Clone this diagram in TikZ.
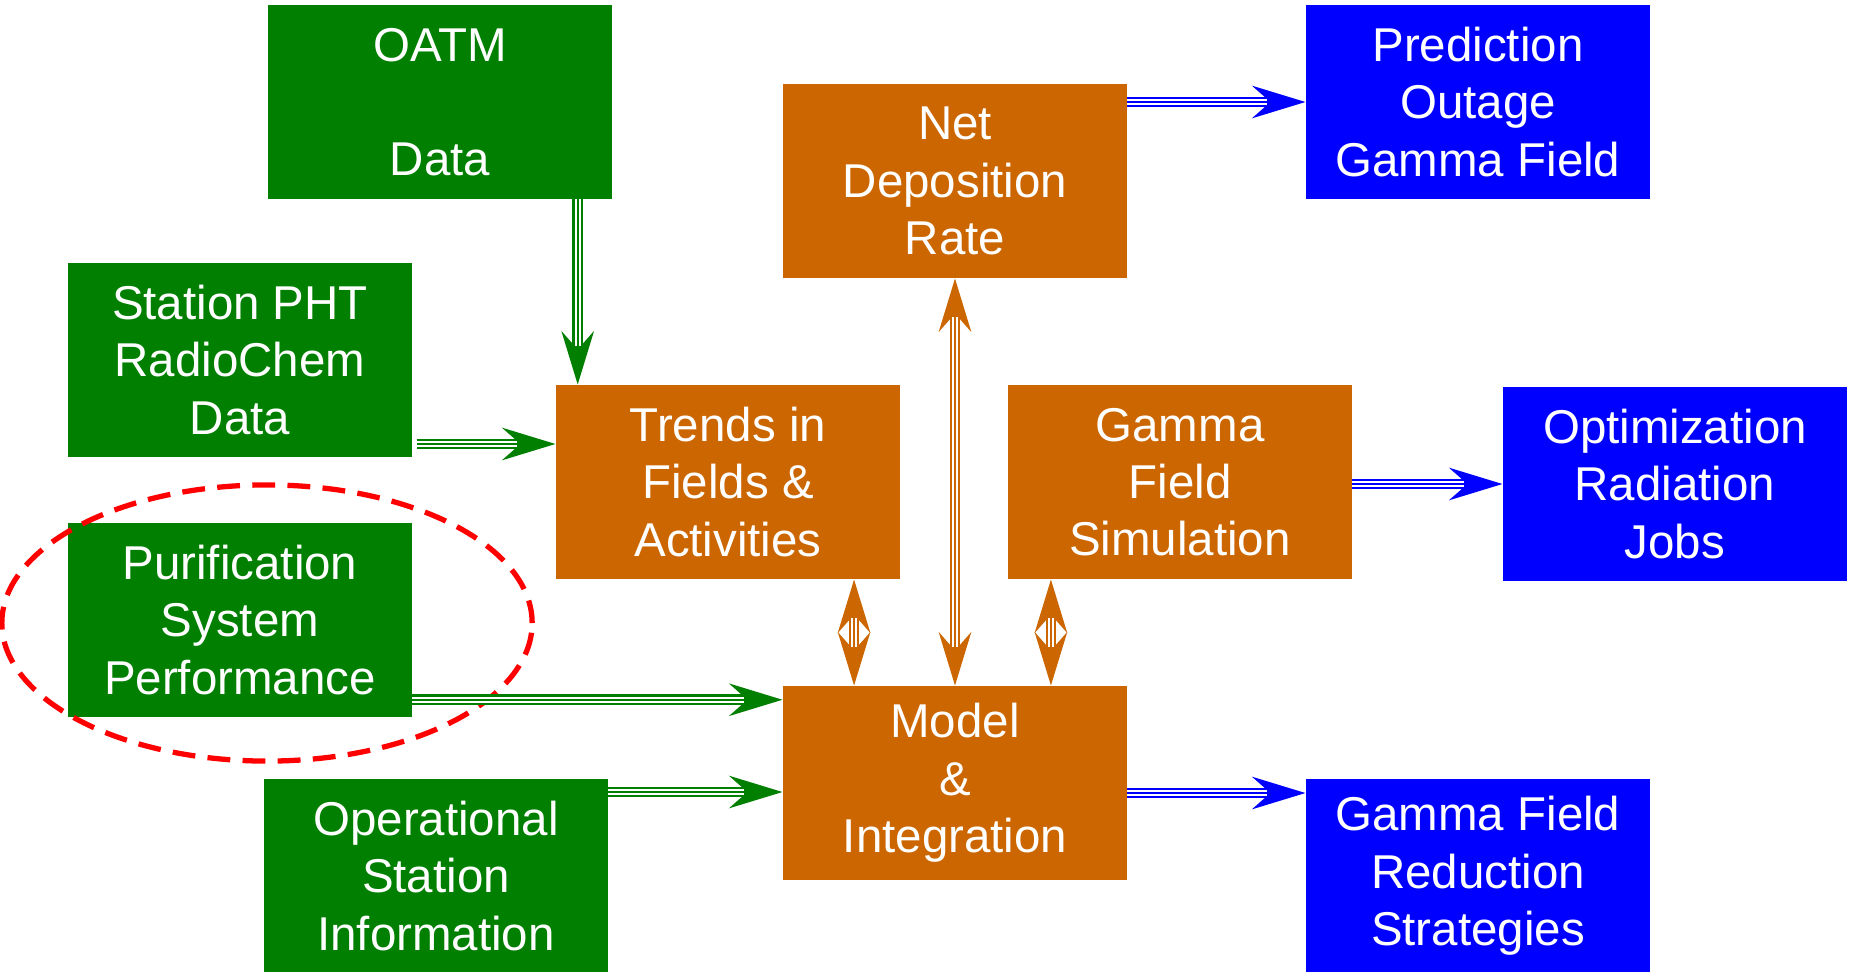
\documentclass[tikz,border=0pt]{standalone}
\usepackage{fontspec}
\setmainfont{Liberation Sans}
\usepackage{tikz}
\usetikzlibrary{arrows.meta,calc,positioning,shapes}
\definecolor{srcgreen}{HTML}{007F00}
\definecolor{procorange}{HTML}{CC6600}
\definecolor{outblue}{HTML}{0000FF}
\tikzset{
    block/.style={
    rectangle,minimum width=3.43cm,minimum height=1.93cm,inner sep=0pt,
    align=center,text=white,font=\fontsize{13.5pt}{16.3pt}\selectfont
    },
    source/.style={
    block,fill=srcgreen
    },
    process/.style={
    block,fill=procorange
    },
    result/.style={
    block,fill=outblue
    },
    flow/.style={
    draw=#1,line width=3pt,-{Stealth[length=15pt,width=9pt,inset=5pt]},
    postaction={draw=white,line width=1.8pt,-,shorten >=11pt},
    postaction={draw=#1,line width=0.6pt,-,shorten >=11pt}
    },
    biflow/.style={
    draw=#1,line width=3pt,{Stealth[length=15pt,width=9pt,inset=5pt]}-{Stealth[length=15pt,width=9pt,inset=5pt]},
    postaction={draw=white,line width=1.8pt,-,shorten >=11pt,shorten <=11pt},
    postaction={draw=#1,line width=0.6pt,-,shorten >=11pt,shorten <=11pt}
    },
}

\begin{document}
\begin{tikzpicture}[x=0.01cm, y=-0.01cm]
   \useasboundingbox (0,0) rectangle (1853,972);

   %data sources
   \node[source] (oatm) at (440,102) {OATM\\ \\Data};
   \node[source] (pht) at (240,360) {Station PHT\\RadioChem\\Data};
   \node[source] (purif) at (240,620) {Purification\\System\\Performance};
   \node[source] (oper) at (436,876) {Operational\\Station\\Information};

   %processing
   \node[process] (trends) at (728,482) {Trends in\\Fields \&\\Activities};
   \node[process] (netdep) at (955,181) {Net\\Deposition\\Rate};
   \node[process] (gsim) at (1180,482) {Gamma\\Field\\Simulation};
   \node[process] (model) at (955,783) {Model\\\&\\Integration};

   %results
   \node[result] (pred) at (1478,102) {Prediction\\Outage\\Gamma Field};
   \node[result] (optim) at (1675,484) {Optimization\\Radiation\\Jobs};
   \node[result] (reduc) at (1478,876) {Gamma Field\\Reduction\\Strategies};

   %highlight
   \draw[red,line width=1.5pt,dash pattern=on 6.5pt off 3.5pt] (267,623) ellipse [x radius=2.65cm, y radius=1.38cm];

   %arrow ends
   \coordinate (t1) at ([xshift=0.22cm]trends.north west);
   \coordinate (t2) at ([yshift=0.38cm]trends.west);
   \coordinate (m1) at ([yshift=-0.14cm]model.north west);
   \coordinate (m2) at ([yshift=-0.09cm]model.west);
   \coordinate (m3) at ([yshift=-0.10cm]model.east);
   \coordinate (r1) at (reduc.west |- m3);

  \path
    (oatm.south -| t1) edge[flow=srcgreen] (t1)
    ([xshift=0.05cm]pht.east |- t2) edge[flow=srcgreen] (t2)
    (purif.east |- m1) edge[flow=srcgreen] (m1)
    (oper.east |- m2) edge[flow=srcgreen] (m2)

    (netdep.south) edge[biflow=procorange] (model.north)
    ([xshift=1.26cm]trends.south) edge[biflow=procorange] ([xshift=1.26cm]trends.south |- model.north)
    ([xshift=-1.29cm]gsim.south) edge[biflow=procorange] ([xshift=-1.29cm]gsim.south |- model.north)

    (netdep.east |- pred.west) edge[flow=outblue] (pred.west)
    (gsim.east |- optim.west) edge[flow=outblue] (optim.west)
    (m3) edge[flow=outblue] (r1);
\end{tikzpicture}
\end{document}
